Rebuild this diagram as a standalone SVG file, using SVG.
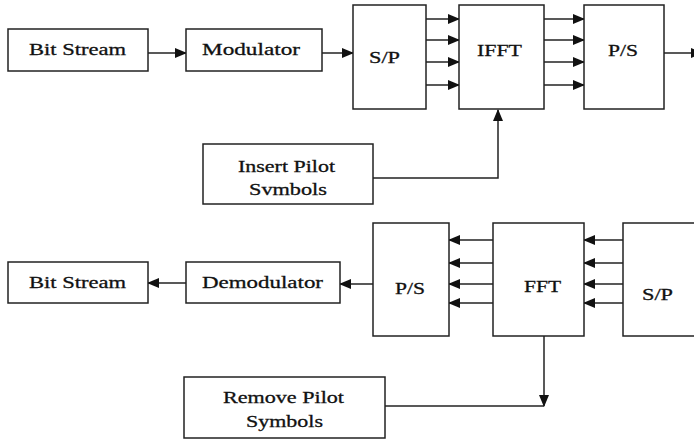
<svg xmlns="http://www.w3.org/2000/svg" width="694" height="442" viewBox="0 0 694 442">
<style>
rect{fill:#fff;stroke:#222;stroke-width:1.5}
text{font-family:"Liberation Serif","Times New Roman",serif;font-size:17px;fill:#111;stroke:#111;stroke-width:0.3}
.c line,.c polyline{stroke:#222;stroke-width:1.5;fill:none}
</style>
<defs>
<marker id="a" markerWidth="12" markerHeight="10" refX="11" refY="5" orient="auto" markerUnits="userSpaceOnUse">
<path d="M0,0 L12,5 L0,10 Z" fill="#111"/>
</marker>
</defs>
<rect width="694" height="442" style="fill:#fff;stroke:none"/>
<g class="c">
<line x1="148" y1="53" x2="186" y2="53" marker-end="url(#a)"/>
<line x1="322" y1="53" x2="353" y2="53" marker-end="url(#a)"/>
<line x1="426" y1="19" x2="459" y2="19" marker-end="url(#a)"/>
<line x1="426" y1="40" x2="459" y2="40" marker-end="url(#a)"/>
<line x1="426" y1="62" x2="459" y2="62" marker-end="url(#a)"/>
<line x1="426" y1="85" x2="459" y2="85" marker-end="url(#a)"/>
<line x1="544" y1="19" x2="584" y2="19" marker-end="url(#a)"/>
<line x1="544" y1="40" x2="584" y2="40" marker-end="url(#a)"/>
<line x1="544" y1="62" x2="584" y2="62" marker-end="url(#a)"/>
<line x1="544" y1="85" x2="584" y2="85" marker-end="url(#a)"/>
<line x1="664" y1="53" x2="702" y2="53" marker-end="url(#a)"/>
<polyline points="373,178 498,178 498,110" marker-end="url(#a)"/>
<line x1="493" y1="240" x2="449" y2="240" marker-end="url(#a)"/>
<line x1="493" y1="263" x2="449" y2="263" marker-end="url(#a)"/>
<line x1="493" y1="284" x2="449" y2="284" marker-end="url(#a)"/>
<line x1="498" y1="303" x2="449" y2="303" marker-end="url(#a)"/>
<line x1="623" y1="240" x2="584" y2="240" marker-end="url(#a)"/>
<line x1="623" y1="263" x2="584" y2="263" marker-end="url(#a)"/>
<line x1="623" y1="284" x2="584" y2="284" marker-end="url(#a)"/>
<line x1="623" y1="303" x2="584" y2="303" marker-end="url(#a)"/>
<line x1="373" y1="284" x2="340" y2="284" marker-end="url(#a)"/>
<line x1="186" y1="283" x2="148" y2="283" marker-end="url(#a)"/>
<line x1="544" y1="336" x2="544" y2="406" marker-end="url(#a)"/>
<line x1="385" y1="406" x2="544" y2="406"/>
</g>
<g id="bitstream-tx"><rect x="8" y="29" width="140" height="42"/><text x="29" y="55" textLength="97" lengthAdjust="spacingAndGlyphs">Bit Stream</text></g>
<g id="modulator"><rect x="186" y="29" width="136" height="42"/><text x="202" y="55" textLength="98" lengthAdjust="spacingAndGlyphs">Modulator</text></g>
<g id="sp-tx"><rect x="353" y="5" width="73" height="104"/><text x="369" y="63" textLength="31" lengthAdjust="spacingAndGlyphs">S/P</text></g>
<g id="ifft"><rect x="459" y="5" width="85" height="104"/><text x="477" y="56" textLength="45" lengthAdjust="spacingAndGlyphs">IFFT</text></g>
<g id="ps-tx"><rect x="584" y="5" width="80" height="104"/><text x="608" y="56" textLength="30" lengthAdjust="spacingAndGlyphs">P/S</text></g>
<g id="insert-pilot"><rect x="203" y="144" width="170" height="60"/><text x="238" y="172" textLength="97" lengthAdjust="spacingAndGlyphs">Insert Pilot</text><text x="249" y="195" textLength="78" lengthAdjust="spacingAndGlyphs">Svmbols</text></g>
<g id="bitstream-rx"><rect x="8" y="262" width="140" height="41"/><text x="29" y="288" textLength="97" lengthAdjust="spacingAndGlyphs">Bit Stream</text></g>
<g id="demodulator"><rect x="186" y="262" width="154" height="41"/><text x="202" y="288" textLength="121" lengthAdjust="spacingAndGlyphs">Demodulator</text></g>
<g id="ps-rx"><rect x="373" y="223" width="76" height="113"/><text x="395" y="294" textLength="30" lengthAdjust="spacingAndGlyphs">P/S</text></g>
<g id="fft"><rect x="493" y="223" width="91" height="113"/><text x="524" y="292" textLength="37" lengthAdjust="spacingAndGlyphs">FFT</text></g>
<g id="sp-rx"><rect x="623" y="223" width="80" height="113"/><text x="642" y="300" textLength="31" lengthAdjust="spacingAndGlyphs">S/P</text></g>
<g id="remove-pilot"><rect x="184" y="377" width="201" height="61"/><text x="223" y="403" textLength="121" lengthAdjust="spacingAndGlyphs">Remove Pilot</text><text x="246" y="427" textLength="77" lengthAdjust="spacingAndGlyphs">Symbols</text></g>
</svg>
